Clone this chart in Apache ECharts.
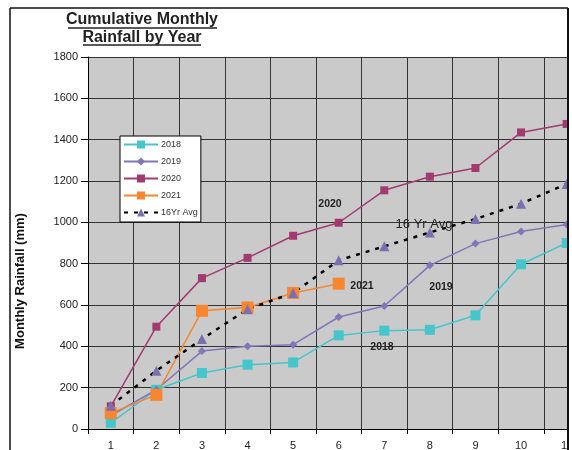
<!DOCTYPE html>
<html><head><meta charset="utf-8">
<script src="https://cdn.jsdelivr.net/npm/echarts@6/dist/echarts.min.js"></script>
<style>html,body{margin:0;padding:0;background:#fff}#c{width:572px;height:450px}</style>
</head><body><div id="c"></div>
<script>
const months = ['1','2','3','4','5','6','7','8','9','10','11','12'];
const yTicks = [0,200,400,600,800,1000,1200,1400,1600,1800];
const s2018 = [30,190,271,311,322,453,476,480,550,797,900];
const s2019 = [65,190,377,400,408,542,595,792,897,956,990];
const s2020 = [110,495,730,828,935,998,1155,1221,1263,1435,1476];
const s2021 = [77,165,572,588,658,703];
const avg16 = [113,282,435,580,658,816,884,951,1016,1090,1186];

const FONT = '"Liberation Sans", Arial, sans-serif';
const chart = echarts.init(document.getElementById('c'), null, {renderer:'canvas'});
chart.setOption({
  animation:false,
  backgroundColor:'#ffffff',
  textStyle:{fontFamily:FONT},
  grid:{left:88, top:57, width:547, height:372, show:true, backgroundColor:'#cacaca', borderWidth:0, containLabel:false, outerBoundsMode:'none'},
  xAxis:{type:'category', data:months, boundaryGap:true,
    axisLine:{lineStyle:{color:'#000', width:1}},
    axisTick:{show:true, length:5, inside:false, lineStyle:{color:'#000'}},
    axisLabel:{color:'#222', fontSize:11, margin:11, fontFamily:FONT},
    splitLine:{show:true, lineStyle:{color:'#333', width:1}}},
  yAxis:{type:'value', min:yTicks[0], max:yTicks[yTicks.length-1], interval:200,
    axisLine:{show:true, lineStyle:{color:'#000', width:1}},
    axisTick:{show:true, length:7, lineStyle:{color:'#000'}},
    axisLabel:{color:'#222', fontSize:11, margin:10, fontFamily:FONT, formatter:function(v){return String(v);}},
    splitLine:{show:true, lineStyle:{color:'#333', width:1}}},
  legend:{orient:'vertical', left:120, top:136, backgroundColor:'#fff', borderColor:'#000', borderWidth:1,
    padding:[4,3,5,3], itemWidth:34, itemHeight:10, itemGap:8,
    textStyle:{fontSize:9, color:'#333', fontFamily:FONT, padding:[0,0,0,-2]},
    data:['2018','2019','2020','2021','16Yr Avg']},
  series:[
    {name:'2018', type:'line', data:s2018, symbol:'rect', symbolSize:10, color:'#46c6cc',
      lineStyle:{width:1.5, color:'#46c6cc'}, itemStyle:{color:'#46c6cc'}},
    {name:'2019', type:'line', data:s2019, symbol:'diamond', symbolSize:8, color:'#8076b8',
      lineStyle:{width:1.5, color:'#8076b8'}, itemStyle:{color:'#8076b8'}},
    {name:'2020', type:'line', data:s2020, symbol:'rect', symbolSize:8, color:'#a23a72',
      lineStyle:{width:1.5, color:'#a23a72'}, itemStyle:{color:'#a23a72'}},
    {name:'2021', type:'line', data:s2021, symbol:'rect', symbolSize:12, color:'#f7862e',
      lineStyle:{width:1.5, color:'#f7862e'}, itemStyle:{color:'#f7862e'}},
    {name:'16Yr Avg', type:'line', data:avg16, symbol:'triangle', symbolSize:10, color:'#7b6fb0',
      lineStyle:{width:2.5, color:'#000', type:[4,6], cap:'butt'}, itemStyle:{color:'#7b6fb0'}}
  ],
  graphic:[
    {type:'rect', z:100, shape:{x:569, y:0, width:10, height:450}, style:{fill:'#fff'}},
    {type:'line', z:101, shape:{x1:10, y1:8, x2:568, y2:8}, style:{stroke:'#111', lineWidth:1.5}},
    {type:'line', z:101, shape:{x1:10, y1:8, x2:10, y2:450}, style:{stroke:'#111', lineWidth:1.5}},
    {type:'line', z:101, shape:{x1:568, y1:8, x2:568, y2:450}, style:{stroke:'#111', lineWidth:2}},
    {type:'text', z:102, x:142, y:20, style:{text:'Cumulative Monthly', font:'bold 16px '+FONT, fill:'#222', align:'center', verticalAlign:'middle'}},
    {type:'line', z:102, shape:{x1:68, y1:28, x2:217, y2:28}, style:{stroke:'#222', lineWidth:1.3}},
    {type:'text', z:102, x:142, y:38, style:{text:'Rainfall by Year', font:'bold 16px '+FONT, fill:'#222', align:'center', verticalAlign:'middle'}},
    {type:'line', z:102, shape:{x1:83, y1:45, x2:201, y2:45}, style:{stroke:'#222', lineWidth:1.3}},
    {type:'text', z:102, x:20, y:281, rotation:Math.PI/2, style:{text:'Monthly Rainfall (mm)', font:'bold 13px '+FONT, fill:'#111', align:'center', verticalAlign:'middle'}},
    {type:'text', z:102, x:330, y:204, style:{text:'2020', font:'bold 10.5px '+FONT, fill:'#222', align:'center', verticalAlign:'middle'}},
    {type:'text', z:102, x:362, y:286, style:{text:'2021', font:'bold 10.5px '+FONT, fill:'#222', align:'center', verticalAlign:'middle'}},
    {type:'text', z:102, x:441, y:287, style:{text:'2019', font:'bold 10.5px '+FONT, fill:'#222', align:'center', verticalAlign:'middle'}},
    {type:'text', z:102, x:382, y:347, style:{text:'2018', font:'bold 10.5px '+FONT, fill:'#222', align:'center', verticalAlign:'middle'}},
    {type:'text', z:102, x:424, y:224, style:{text:'16 Yr Avg', font:'13px '+FONT, fill:'#222', align:'center', verticalAlign:'middle'}}
  ]
});
</script></body></html>
